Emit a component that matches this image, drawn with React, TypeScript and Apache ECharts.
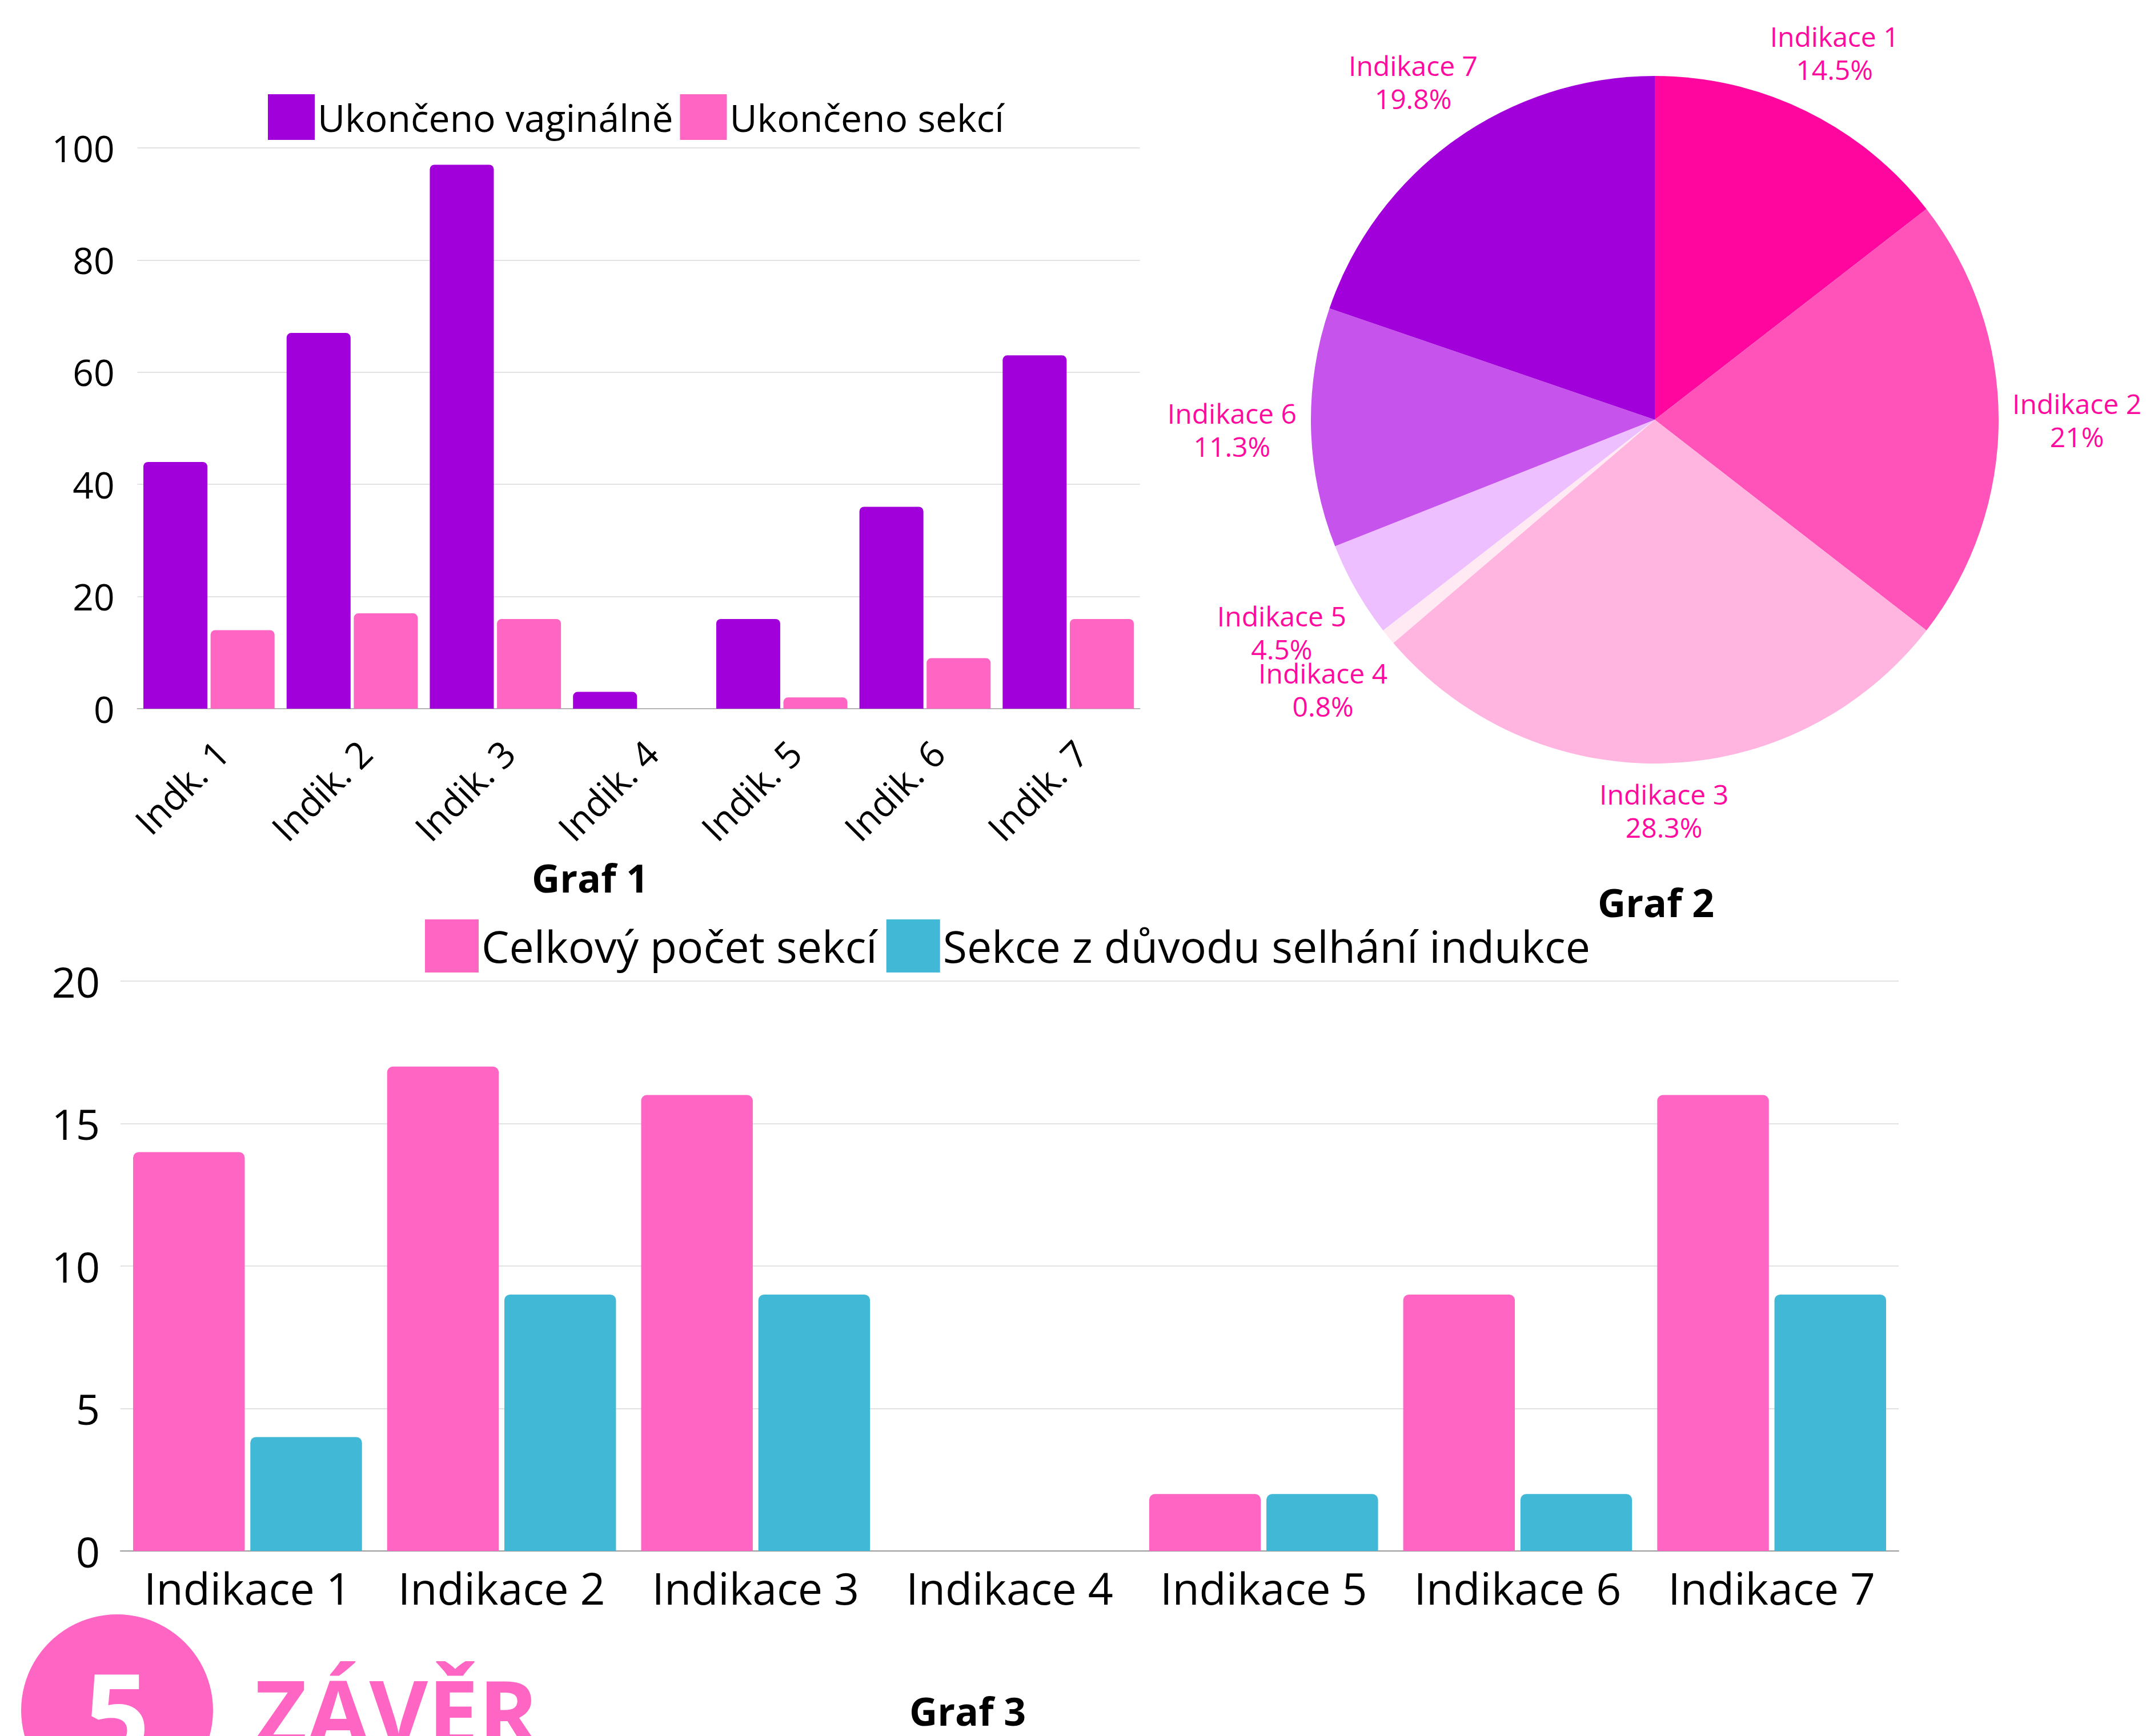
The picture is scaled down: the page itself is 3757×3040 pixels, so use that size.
import React, { useEffect, useRef } from "react";
import * as echarts from "echarts";

const FONT = "'Open Sans', 'Noto Sans', sans-serif";

// Graf 1
const categories1 = ["Indk. 1", "Indik. 2", "Indik. 3", "Indik. 4", "Indik. 5", "Indik. 6", "Indik. 7"];
const seriesNames1 = ["Ukončeno vaginálně", "Ukončeno sekcí"];
const vaginalne = [44, 67, 97, 3, 16, 36, 63];
const sekci = [14, 17, 16, 0, 2, 9, 16];

// Graf 2
const pieNames = ["Indikace 1", "Indikace 2", "Indikace 3", "Indikace 4", "Indikace 5", "Indikace 6", "Indikace 7"];
const pieValues = [58, 84, 113, 3, 18, 45, 79];
const pieColors = ["#FF069F", "#FF53B9", "#FFB5DF", "#FFE9F2", "#EDBFFF", "#C653EC", "#A200DA"];

// Graf 3
const categories3 = ["Indikace 1", "Indikace 2", "Indikace 3", "Indikace 4", "Indikace 5", "Indikace 6", "Indikace 7"];
const seriesNames3 = ["Celkový počet sekcí", "Sekce z důvodu selhání indukce"];
const celkemSekci = [14, 17, 16, 0, 2, 9, 16];
const selhaniIndukce = [4, 9, 9, 0, 2, 2, 9];

const PIE_C = [2897, 735];
const PIE_R = 602;

export default function App() {
  const ref = useRef<HTMLDivElement>(null);
  useEffect(() => {
    if (!ref.current) return;
    const chart = echarts.init(ref.current, undefined, { renderer: "svg" });
    const total = pieValues.reduce((a, b) => a + b, 0);
    const pct = (v: number) => Math.round((v * 1000) / total) / 10;

    const option: any = {
      animation: false,
      backgroundColor: "#ffffff",
      textStyle: { fontFamily: FONT },
      legend: [
        {
          data: seriesNames1,
          left: 469,
          top: 165,
          itemWidth: 82,
          itemHeight: 80,
          itemGap: 12,
          icon: "rect",
          padding: 0,
          textStyle: { fontSize: 66, color: "#000", fontFamily: FONT },
        },
        {
          data: seriesNames3,
          left: 744,
          top: 1610,
          itemWidth: 94,
          itemHeight: 93,
          itemGap: 16,
          icon: "rect",
          padding: 0,
          textStyle: { fontSize: 77, color: "#000", fontFamily: FONT },
        },
      ],
      grid: [
        { left: 240.5, top: 259, width: 1755, height: 982, containLabel: false },
        { left: 211, top: 1718, width: 3113, height: 998, containLabel: false },
      ],
      xAxis: [
        {
          type: "category",
          gridIndex: 0,
          data: categories1,
          axisTick: { show: false },
          axisLine: { lineStyle: { color: "#b5b5b5", width: 2 } },
          axisLabel: {
            rotate: 45,
            interval: 0,
            fontSize: 64,
            color: "#000",
            margin: 44,
            verticalAlign: "top",
            fontFamily: FONT,
          },
        },
        {
          type: "category",
          gridIndex: 1,
          data: categories3,
          axisTick: { show: false },
          axisLine: { lineStyle: { color: "#9a9a9a", width: 2 } },
          axisLabel: { interval: 0, fontSize: 77, color: "#000", margin: 26, fontFamily: FONT },
        },
      ],
      yAxis: [
        {
          type: "value",
          gridIndex: 0,
          min: 0,
          max: 100,
          interval: 20,
          axisLine: { show: false },
          axisTick: { show: false },
          splitLine: { lineStyle: { color: "#e2e2e2", width: 2 } },
          axisLabel: { fontSize: 64, color: "#000", margin: 40, fontFamily: FONT },
        },
        {
          type: "value",
          gridIndex: 1,
          min: 0,
          max: 20,
          interval: 5,
          axisLine: { show: false },
          axisTick: { show: false },
          splitLine: { lineStyle: { color: "#e2e2e2", width: 2 } },
          axisLabel: { fontSize: 74, color: "#000", margin: 36, fontFamily: FONT },
        },
      ],
      series: [
        {
          type: "bar",
          name: seriesNames1[0],
          xAxisIndex: 0,
          yAxisIndex: 0,
          data: vaginalne,
          barGap: "5%",
          barCategoryGap: "8.4%",
          itemStyle: { color: "#A200DA", borderRadius: [8, 8, 0, 0] },
        },
        {
          type: "bar",
          name: seriesNames1[1],
          xAxisIndex: 0,
          yAxisIndex: 0,
          data: sekci,
          barGap: "5%",
          barCategoryGap: "8.4%",
          itemStyle: { color: "#FF66C4", borderRadius: [8, 8, 0, 0] },
        },
        {
          type: "pie",
          center: PIE_C,
          radius: PIE_R,
          startAngle: 90,
          clockwise: true,
          avoidLabelOverlap: false,
          data: pieNames.map((n, i) => ({ name: n, value: pieValues[i], itemStyle: { color: pieColors[i] } })),
          label: {
            show: true,
            position: "outside",
            color: "#FF0A9E",
            fontSize: 48,
            lineHeight: 58,
            fontFamily: FONT,
            formatter: (p: any) => `${p.name}\n${pct(p.value)}%`,
          },
          labelLine: { show: false },
          labelLayout: (params: any) => {
            const i = params.dataIndex;
            let cum = 0;
            for (let j = 0; j < i; j++) cum += pieValues[j];
            const mid = ((cum + pieValues[i] / 2) / total) * Math.PI * 2;
            const sx = Math.sin(mid);
            const sy = -Math.cos(mid);
            const w = params.labelRect.width;
            const hh = sy < 0 ? 44 : 56;
            const d = PIE_R + 24 + (Math.abs(sx) * w) / 2 + Math.abs(sy) * hh;
            return {
              x: PIE_C[0] + sx * d,
              y: PIE_C[1] + sy * d,
              align: "center",
              verticalAlign: "middle",
            };
          },
          emphasis: { disabled: true },
        },
        {
          type: "bar",
          name: seriesNames3[0],
          xAxisIndex: 1,
          yAxisIndex: 1,
          data: celkemSekci,
          barGap: "5%",
          barCategoryGap: "9.9%",
          itemStyle: { color: "#FF66C4", borderRadius: [10, 10, 0, 0] },
        },
        {
          type: "bar",
          name: seriesNames3[1],
          xAxisIndex: 1,
          yAxisIndex: 1,
          data: selhaniIndukce,
          barGap: "5%",
          barCategoryGap: "9.9%",
          itemStyle: { color: "#41B8D5", borderRadius: [10, 10, 0, 0] },
        },
      ],
      graphic: [
        {
          type: "text",
          x: 1033,
          y: 1536,
          style: { text: "Graf 1", align: "center", verticalAlign: "middle", fontSize: 68, fontWeight: "bold", fontFamily: FONT, fill: "#000" },
        },
        {
          type: "text",
          x: 2899,
          y: 1579,
          style: { text: "Graf 2", align: "center", verticalAlign: "middle", fontSize: 68, fontWeight: "bold", fontFamily: FONT, fill: "#000" },
        },
        {
          type: "text",
          x: 1694,
          y: 2995,
          style: { text: "Graf 3", align: "center", verticalAlign: "middle", fontSize: 68, fontWeight: "bold", fontFamily: FONT, fill: "#000" },
        },
        {
          type: "circle",
          shape: { cx: 205, cy: 2995, r: 168 },
          style: { fill: "#FF66C4" },
        },
        {
          type: "text",
          x: 205,
          y: 2997,
          style: { text: "5", align: "center", verticalAlign: "middle", fontSize: 200, fontWeight: "bold", fontFamily: FONT, fill: "#ffffff" },
        },
        {
          type: "text",
          x: 446,
          y: 2995,
          style: { text: "ZÁVĚR", align: "left", verticalAlign: "middle", fontSize: 158, fontWeight: "bold", fontFamily: FONT, fill: "#FF66C4" },
        },
      ],
    };
    chart.setOption(option);
    return () => chart.dispose();
  }, []);
  return (
    <div
      ref={ref}
      style={{ position: "absolute", left: 0, top: 0, width: 3757, height: 3040, background: "#fff" }}
    />
  );
}
